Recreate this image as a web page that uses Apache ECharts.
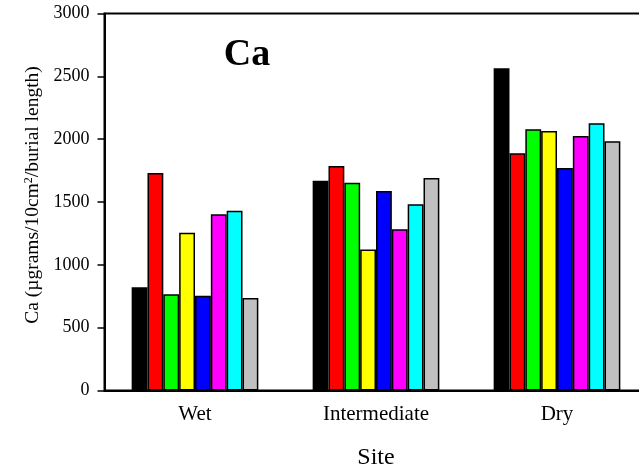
<!DOCTYPE html>
<html>
<head>
<meta charset="utf-8">
<script src="https://cdn.jsdelivr.net/npm/echarts@6/dist/echarts.min.js"></script>
<style>
  html, body { margin: 0; padding: 0; background: #fff; }
  #frame { width: 639px; height: 467px; overflow: hidden; position: relative; }
  #chart { width: 652px; height: 467px; position: absolute; left: 0; top: 0; }
</style>
</head>
<body>
<div id="frame"><div id="chart"></div></div>
<script>
// Sites along the x axis
const sites = ['Wet', 'Intermediate', 'Dry'];

// Ca per treatment, one array per bar colour (Wet, Intermediate, Dry)
const seriesBlack   = [821, 1670, 2564];
const seriesRed     = [1731, 1786, 1887];
const seriesGreen   = [765, 1654, 2078];
const seriesYellow  = [1256, 1123, 2065];
const seriesBlue    = [754, 1587, 1770];
const seriesMagenta = [1402, 1283, 2025];
const seriesCyan    = [1431, 1482, 2126];
const seriesGrey    = [736, 1691, 1983];

const yTicks = [0, 500, 1000, 1500, 2000, 2500, 3000];

const seriesList = [
  { name: 'T1', data: seriesBlack,   color: '#000000' },
  { name: 'T2', data: seriesRed,     color: '#ff0000' },
  { name: 'T3', data: seriesGreen,   color: '#00ff00' },
  { name: 'T4', data: seriesYellow,  color: '#ffff00' },
  { name: 'T5', data: seriesBlue,    color: '#0000ff' },
  { name: 'T6', data: seriesMagenta, color: '#ff00ff' },
  { name: 'T7', data: seriesCyan,    color: '#00ffff' },
  { name: 'T8', data: seriesGrey,    color: '#c0c0c0' }
];

const serif = '"Liberation Serif", "DejaVu Serif", serif';

const chart = echarts.init(document.getElementById('chart'), null, { renderer: 'canvas' });

chart.setOption({
  animation: false,
  backgroundColor: '#ffffff',
  // The plot box runs past the right edge of the frame, so only its top and bottom show
  grid: {
    left: 104.5,
    top: 13.5,
    right: 4.5,
    bottom: 76.5,
    outerBoundsMode: 'none',
    containLabel: false,
    show: true,
    borderColor: '#000',
    borderWidth: 2,
    backgroundColor: 'transparent'
  },
  graphic: [
    {
      type: 'text',
      x: 247,
      y: 55,
      style: {
        text: 'Ca',
        fontFamily: serif,
        fontWeight: 'bold',
        fontSize: 38,
        fill: '#000',
        align: 'center',
        verticalAlign: 'middle'
      }
    },
    {
      type: 'text',
      x: 33,
      y: 195,
      rotation: Math.PI / 2,
      style: {
        text: '{t|Ca (µgrams/10cm}{sup|2}{t|/burial length)}',
        align: 'center',
        verticalAlign: 'middle',
        rich: {
          t: { fontFamily: serif, fontSize: 19.5, fill: '#000' },
          sup: { fontFamily: serif, fontSize: 12, fill: '#000', verticalAlign: 'top', padding: [0, 0, 9, 0] }
        }
      }
    }
  ],
  xAxis: {
    type: 'category',
    data: sites,
    name: 'Site',
    nameLocation: 'middle',
    nameGap: 55,
    nameTextStyle: { fontFamily: serif, fontSize: 24, color: '#000' },
    axisLine: { lineStyle: { color: '#000', width: 2 } },
    axisTick: { alignWithLabel: true, length: 5, lineStyle: { color: '#000', width: 1.5 } },
    axisLabel: { fontFamily: serif, fontSize: 21, color: '#000', margin: 13 }
  },
  yAxis: {
    type: 'value',
    min: yTicks[0],
    max: yTicks[yTicks.length - 1],
    interval: 500,
    axisLine: { show: true, lineStyle: { color: '#000', width: 2 } },
    axisTick: { show: true, length: 7, lineStyle: { color: '#000', width: 1.5 } },
    splitLine: { show: false },
    axisLabel: {
      fontFamily: serif,
      fontSize: 18,
      color: '#000',
      margin: 15,
      formatter: v => String(v)
    }
  },
  series: seriesList.map(s => ({
    type: 'bar',
    name: s.name,
    data: s.data,
    barGap: '0%',
    barCategoryGap: '30%',
    itemStyle: { color: s.color, borderColor: '#000', borderWidth: 1.5 }
  }))
});
</script>
</body>
</html>
